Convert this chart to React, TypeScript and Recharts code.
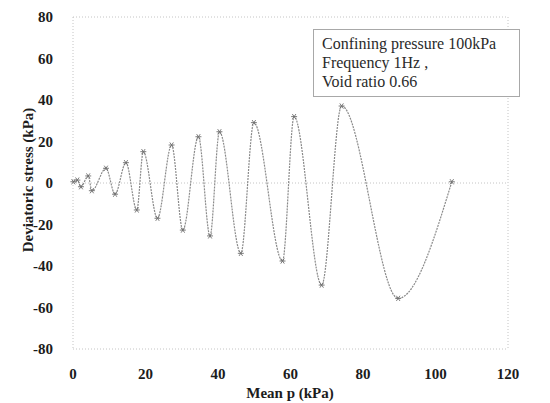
import { LineChart, Line, XAxis, YAxis, CartesianGrid } from "recharts";

// turning points of the cyclic test (ascending p)
const meanP = [
  0.1, 1.2, 2.2, 4.2, 5.2, 9.1, 11.6, 14.6, 17.6, 19.4, 23.3, 27.2, 30.3, 34.6,
  37.8, 40.4, 46.3, 49.9, 57.8, 61, 68.6, 74.1, 89.7, 104.5,
];
const deviatoricStress = [
  0.6, 1.4, -1.8, 3.4, -3.7, 7.1, -5.4, 9.8, -13, 15.1, -17, 18.3, -22.7, 22.3,
  -25.5, 24.7, -33.9, 29.1, -37.6, 32, -49.2, 37.1, -55.6, 0.6,
];

const xTicks = [0, 20, 40, 60, 80, 100, 120];
const yTicks = [-80, -60, -40, -20, 0, 20, 40, 60, 80];
const infoLines = ["Confining pressure 100kPa", "Frequency 1Hz ,", "Void ratio 0.66"];

const data = meanP.map((p, i) => ({ p, q: deviatoricStress[i] }));

const serif = '"Liberation Serif", "Times New Roman", serif';
const tickStyle = { fontFamily: serif, fontSize: 15, fontWeight: 700, fill: "#1c1c1c" };

function StarDot(props: any) {
  const { cx, cy, index } = props;
  if (cx == null || cy == null) return <g key={index} />;
  return (
    <g key={index} stroke="#6f6f6f" strokeWidth={0.9}>
      <line x1={cx - 3} y1={cy} x2={cx + 3} y2={cy} />
      <line x1={cx - 1.8} y1={cy - 2.6} x2={cx + 1.8} y2={cy + 2.6} />
      <line x1={cx - 1.8} y1={cy + 2.6} x2={cx + 1.8} y2={cy - 2.6} />
    </g>
  );
}

export default function App() {
  return (
    <div style={{ position: "absolute", left: 0, top: 0, width: 550, height: 403, background: "#fff" }}>
      <LineChart width={550} height={403} data={data} margin={{ top: 17, right: 42, left: 0, bottom: 0 }}>
        <CartesianGrid
          horizontalValues={[-80, 0, 80]}
          verticalValues={[0, 120]}
          stroke="#c4c4c4"
          strokeDasharray="1 2"
        />
        <XAxis
          dataKey="p"
          type="number"
          domain={[0, 120]}
          ticks={xTicks}
          height={54}
          axisLine={false}
          tickLine={false}
          tickMargin={13}
          tick={tickStyle}
          interval={0}
        />
        <YAxis
          type="number"
          domain={[-80, 80]}
          ticks={yTicks}
          width={73}
          axisLine={false}
          tickLine={false}
          tickMargin={14}
          tick={tickStyle}
          interval={0}
        />
        <Line
          type="monotone"
          dataKey="q"
          stroke="#8a8a8a"
          strokeWidth={1.2}
          strokeDasharray="2 1"
          dot={StarDot}
          isAnimationActive={false}
        />
      </LineChart>

      {/* axis titles and the info box sit on top of the svg */}
      <div
        style={{
          position: "absolute",
          left: 28,
          top: 180,
          transform: "translate(-50%, -50%) rotate(-90deg)",
          whiteSpace: "nowrap",
          fontFamily: serif,
          fontWeight: 700,
          fontSize: 15,
          color: "#1c1c1c",
        }}
      >
        Deviatoric stress (kPa)
      </div>
      <div
        style={{
          position: "absolute",
          left: 290,
          top: 393,
          transform: "translate(-50%, -50%)",
          whiteSpace: "nowrap",
          fontFamily: serif,
          fontWeight: 700,
          fontSize: 15,
          color: "#1c1c1c",
        }}
      >
        Mean p (kPa)
      </div>
      <div
        style={{
          position: "absolute",
          left: 313,
          top: 29,
          width: 207,
          height: 68,
          boxSizing: "border-box",
          border: "1px solid #a8a8a8",
          padding: "4px 0 0 8px",
          fontFamily: serif,
          fontSize: 16,
          lineHeight: "19px",
          color: "#2a2a2a",
          background: "#fff",
        }}
      >
        {infoLines.map((t) => (
          <div key={t} style={{ whiteSpace: "pre" }}>
            {t}
          </div>
        ))}
      </div>
    </div>
  );
}
